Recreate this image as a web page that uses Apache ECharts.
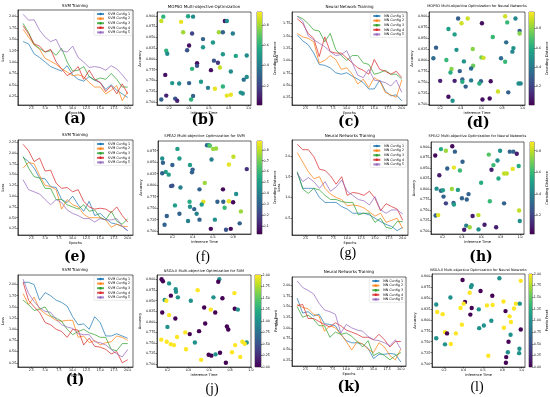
<!DOCTYPE html>
<html><head><meta charset="utf-8">
<script src="https://cdn.jsdelivr.net/npm/echarts@6/dist/echarts.min.js"></script>
<style>html,body{margin:0;padding:0;background:#fff}#c{width:550px;height:397px}</style>
</head><body><div id="c"></div>
<script>
// ---------- DATA ----------
const epochs=[1,2,3,4,5,6,7,8,9,10,11,12,13,14,15,16,17,18,19,20];
const epochTicks=[2.5,5,7.5,10,12.5,15,17.5,20];
const svmNames=['SVM Config 1','SVM Config 2','SVM Config 3','SVM Config 4','SVM Config 5'];
const nnNames=['NN Config 1','NN Config 2','NN Config 3','NN Config 4','NN Config 5'];
const lossTicks200=[0.25,0.5,0.75,1.0,1.25,1.5,1.75,2.0];
const lossTicks175=[0.25,0.5,0.75,1.0,1.25,1.5,1.75];
const lossTicks225=[0.25,0.5,0.75,1.0,1.25,1.5,1.75,2.0,2.25];
const lossTicksHalf=[0.5,1.0,1.5,2.0];

// (a) SVM Training
const aSvm1=[1.45,1.40,1.18,1.10,1.00,0.90,0.85,0.80,0.92,0.72,0.62,0.58,0.68,0.60,0.55,0.40,0.50,0.38,0.30,0.22];
const aSvm2=[1.72,1.55,1.38,1.28,1.08,1.02,0.95,0.85,0.78,0.70,0.72,0.68,0.55,0.45,0.45,0.30,0.38,0.48,0.15,0.35];
const aSvm3=[1.85,1.65,1.38,1.30,1.22,1.25,1.15,1.30,1.00,0.80,0.82,0.90,0.68,0.60,0.65,0.62,0.75,0.62,0.45,0.45];
const aSvm4=[1.80,1.62,1.40,1.35,1.22,1.28,1.00,0.85,0.70,0.78,0.90,0.62,0.82,0.62,0.55,0.35,0.48,0.30,0.52,0.30];
const aSvm5=[2.05,1.92,1.93,1.70,1.55,1.45,1.50,1.25,1.22,1.35,1.10,1.00,0.88,0.90,0.88,0.82,0.92,0.85,0.72,0.57];
// (c) Neural Network Training
const cNn1=[1.52,1.40,1.32,1.15,0.92,0.90,0.85,0.75,0.72,0.75,0.68,0.62,0.55,0.42,0.42,0.60,0.38,0.28,0.30,0.18];
const cNn2=[1.55,1.48,1.45,1.38,0.95,1.00,1.10,1.02,0.82,0.85,0.72,0.52,0.62,0.45,0.65,0.58,0.35,0.30,0.25,0.60];
const cNn3=[1.90,1.85,1.75,1.62,1.60,1.38,1.55,1.22,1.10,1.00,1.10,1.10,0.95,0.92,0.72,0.75,0.80,0.72,0.72,0.62];
const cNn4=[1.85,1.75,1.55,1.45,1.08,1.48,1.18,1.15,1.15,1.05,0.95,0.85,0.80,0.72,1.02,0.82,0.78,0.72,0.78,0.65];
const cNn5=[1.90,1.80,1.50,1.42,1.35,1.28,1.18,1.10,1.12,1.20,0.95,0.70,0.65,0.82,0.60,0.58,0.55,0.48,0.60,0.35];
// (e) SVM Training
const eSvm1=[1.90,1.80,1.65,1.42,1.40,1.22,1.20,0.92,0.85,1.00,0.80,0.65,0.88,0.55,0.60,0.48,0.38,0.35,0.30,0.20];
const eSvm2=[1.65,1.78,1.75,1.48,1.25,1.22,1.15,0.70,0.92,0.80,0.75,0.58,0.50,0.50,0.50,0.45,0.28,0.35,0.30,0.30];
const eSvm3=[1.92,1.65,1.45,1.42,1.18,1.18,0.92,0.92,0.80,0.75,0.70,0.80,0.65,0.68,0.50,0.45,0.65,0.42,0.35,0.48];
const eSvm4=[2.20,2.05,1.80,1.88,1.58,1.60,1.30,1.18,1.20,1.10,1.15,0.88,0.75,0.70,0.72,0.70,0.62,0.75,0.55,0.40];
const eSvm5=[1.38,1.15,1.10,1.05,0.92,0.80,0.92,0.85,0.68,0.60,0.55,0.48,0.48,0.40,0.48,0.45,0.45,0.48,0.30,0.20];
// (g) Neural Networks Training
const gNn1=[1.60,1.22,1.22,1.22,1.00,0.88,0.88,0.88,0.78,0.72,0.62,0.62,0.62,0.58,0.50,0.42,0.35,0.30,0.20,0.28];
const gNn2=[2.08,1.85,1.62,1.45,1.50,1.22,1.08,1.00,0.95,0.80,0.82,0.80,0.75,0.65,0.55,0.62,0.40,0.45,0.50,0.25];
const gNn3=[1.62,1.20,1.10,1.22,1.18,1.05,0.95,0.95,0.90,0.88,0.88,0.58,0.62,0.62,0.40,0.50,0.28,0.25,0.42,0.42];
const gNn4=[2.28,2.15,2.15,1.98,1.68,1.65,1.52,1.32,1.50,1.05,1.12,1.10,1.05,1.15,0.98,0.68,0.85,0.78,0.72,0.45];
const gNn5=[1.58,1.38,1.48,1.38,1.22,1.38,1.15,1.25,1.42,1.15,1.05,0.95,0.92,0.82,1.02,0.70,0.62,0.70,0.70,0.60];
// (i) SVM Training
const iSvm1=[2.05,2.05,2.00,1.65,1.82,1.75,1.65,1.60,1.52,1.28,1.10,1.12,1.00,1.28,1.15,0.85,0.85,0.90,0.85,0.80];
const iSvm2=[1.80,1.55,1.72,1.45,1.35,1.28,1.20,1.18,1.20,1.20,0.82,0.85,0.70,0.75,0.65,0.70,0.72,0.85,0.82,0.75];
const iSvm3=[1.65,1.55,1.42,1.45,1.50,1.30,1.25,1.18,1.00,0.88,0.95,1.00,0.92,0.88,0.82,0.82,0.55,0.52,0.68,0.68];
const iSvm4=[2.05,1.65,1.50,1.38,1.15,1.10,1.00,0.95,0.82,1.00,0.98,0.65,0.80,0.62,0.60,0.55,0.45,0.50,0.25,0.32];
const iSvm5=[2.12,1.80,1.62,1.48,1.40,1.38,1.22,1.10,1.05,1.02,0.90,0.88,0.88,0.72,0.70,0.65,0.55,0.45,0.38,0.55];
// (k) Neural Networks Training
const kNn1=[1.70,1.35,1.38,1.28,1.32,1.10,1.08,1.05,0.85,0.70,0.65,0.65,0.62,0.52,0.28,0.38,0.38,0.40,0.38,0.20];
const kNn2=[1.55,1.48,1.45,1.32,1.28,0.92,1.05,1.00,0.85,0.68,0.48,0.68,0.62,0.50,0.42,0.65,0.55,0.35,0.25,0.50];
const kNn3=[1.50,1.25,1.30,1.20,1.05,1.05,0.78,0.90,0.85,0.88,0.80,0.68,0.55,0.70,0.35,0.42,0.35,0.25,0.35,0.42];
const kNn4=[1.52,1.55,1.22,1.22,1.15,1.08,1.02,1.12,1.05,0.95,0.90,0.85,0.78,0.78,0.72,0.85,0.72,0.55,0.68,0.68];
const kNn5=[2.10,1.95,1.88,1.80,1.58,1.42,1.38,1.32,0.88,1.08,1.00,0.95,0.92,0.80,0.72,0.70,0.65,0.58,0.72,0.50];

// scatter ticks
const timeTicks=[0.2,0.4,0.6,0.8,1.0];
const timeTicks08=[0.2,0.4,0.6,0.8];
const accTicks=[0.700,0.725,0.750,0.775,0.800,0.825,0.850,0.875,0.900];
const accTicks875=[0.700,0.725,0.750,0.775,0.800,0.825,0.850,0.875];
const cdTicks=[0.2,0.4,0.6,0.8];
const cdTicksF=[0.1,0.2,0.3,0.4,0.5,0.6,0.7,0.8];
const pfTicks=[0,0.25,0.5,0.75,1.0,1.25,1.5,1.75,2.0];

// (b) MOPSO
const bTime=[0.14,0.12,0.32,0.39,0.44,0.76,0.78,0.34,0.43,0.70,0.74,0.84,0.54,0.64,0.40,0.38,0.54,0.17,0.18,0.74,0.98,0.87,0.48,0.48,0.65,0.69,0.43,0.62,0.71,0.82,0.16,0.23,0.30,0.40,0.52,0.74,0.95,0.98,0.59,0.66,0.92,0.94,0.82,0.78,0.17,0.44,0.12,0.26,0.28,0.42];
const bAcc=[0.898,0.888,0.886,0.899,0.898,0.888,0.888,0.862,0.859,0.862,0.862,0.859,0.846,0.838,0.831,0.820,0.827,0.819,0.812,0.811,0.808,0.807,0.790,0.784,0.796,0.791,0.777,0.774,0.780,0.771,0.763,0.744,0.743,0.744,0.747,0.736,0.752,0.758,0.733,0.731,0.722,0.720,0.717,0.715,0.715,0.714,0.706,0.708,0.703,0.706];
const bCD=[0.6,0.85,0.9,0.55,0.45,0.05,0.45,0.8,0.2,0.8,0.3,0.4,0.3,0.5,0.05,0.25,0.5,0.6,0.45,0.5,0.45,0.55,0.05,0.25,0.25,0.15,0.6,0.05,0.85,0.45,0.05,0.5,0.45,0.3,0.5,0.6,0.35,0.45,0.4,0.9,0.5,0.45,0.9,0.9,0.1,0.3,0.3,0.25,0.1,0.6];
const bRange=[0.01,0.93];
// (d) MOPSO NN
const dTime=[0.374,0.467,0.407,0.605,0.83,0.93,0.85,0.97,0.97,0.28,0.34,0.71,0.84,0.16,0.358,0.516,0.91,0.90,0.134,0.26,0.43,0.60,0.62,0.79,0.83,0.31,0.30,0.39,0.52,0.50,0.20,0.34,0.415,0.415,0.50,0.595,0.58,0.69,0.447,0.96,0.98,0.76,0.86,0.28,0.32,0.61,0.68];
const dAcc=[0.894,0.894,0.883,0.883,0.899,0.894,0.885,0.866,0.860,0.870,0.858,0.852,0.840,0.828,0.823,0.825,0.827,0.819,0.804,0.800,0.797,0.806,0.805,0.804,0.796,0.780,0.772,0.775,0.787,0.781,0.753,0.753,0.756,0.751,0.754,0.752,0.747,0.752,0.740,0.747,0.747,0.729,0.727,0.717,0.708,0.711,0.713];
const dCD=[0.3,0.9,0.9,0.05,0.9,0.45,0.65,0.3,0.8,0.55,0.55,0.65,0.35,0.3,0.5,0.8,0.5,0.45,0.35,0.65,0.5,0.75,0.9,0.35,0.65,0.8,0.6,0.3,0.75,0.35,0.1,0.1,0.3,0.6,0.4,0.3,0.6,0.05,0.3,0.5,0.45,0.9,0.3,0.05,0.5,0.05,0.05];
const dRange=[0.01,0.97];
// (f) SPEA2 SVM
const fTime=[0.542,0.561,0.571,0.603,0.632,0.25,0.10,0.27,0.107,0.20,0.374,0.587,0.803,0.758,0.135,0.164,0.10,0.40,0.394,0.935,0.52,0.187,0.20,0.28,0.468,0.70,0.83,0.37,0.506,0.645,0.703,0.758,0.80,0.226,0.374,0.416,0.49,0.716,0.877,0.44,0.27,0.145,0.355,0.468,0.62,0.123,0.58,0.73,0.777,0.865];
const fAcc=[0.887,0.887,0.886,0.879,0.880,0.879,0.858,0.858,0.849,0.844,0.844,0.856,0.862,0.845,0.829,0.823,0.826,0.834,0.828,0.835,0.805,0.798,0.799,0.795,0.791,0.791,0.781,0.764,0.764,0.764,0.764,0.765,0.763,0.756,0.753,0.748,0.758,0.751,0.743,0.738,0.738,0.733,0.722,0.725,0.725,0.714,0.705,0.703,0.705,0.717];
const fCD=[0.3,0.5,0.65,0.75,0.75,0.5,0.45,0.5,0.3,0.3,0.5,0.4,0.8,0.85,0.5,0.5,0.3,0.3,0.3,0.15,0.75,0.25,0.25,0.4,0.3,0.05,0.45,0.55,0.85,0.3,0.3,0.85,0.05,0.5,0.45,0.3,0.5,0.6,0.75,0.4,0.3,0.3,0.4,0.3,0.45,0.3,0.05,0.25,0.05,0.3];
const fRange=[0.03,0.88];
// (h) SPEA2 NN
const hTime=[0.30,0.183,0.234,0.327,0.124,0.677,0.794,0.894,0.931,0.966,0.406,0.767,0.725,0.986,0.248,0.317,0.379,0.705,0.924,0.835,0.863,0.166,0.777,0.598,0.138,0.183,0.203,0.296,0.358,0.468,0.21,0.40,0.45,0.234,0.313,0.317,0.688,0.835,0.128,0.155,0.57,0.99,0.51,0.997,0.444,0.48,0.423,0.571,0.633,0.753];
const hAcc=[0.902,0.895,0.891,0.889,0.880,0.882,0.891,0.889,0.889,0.884,0.865,0.868,0.857,0.855,0.849,0.851,0.844,0.846,0.848,0.837,0.837,0.833,0.825,0.815,0.801,0.796,0.797,0.800,0.798,0.788,0.782,0.778,0.775,0.766,0.767,0.763,0.771,0.766,0.737,0.738,0.738,0.749,0.736,0.724,0.713,0.709,0.703,0.704,0.715,0.709];
const hCD=[0.05,0.55,0.75,0.3,0.05,0.65,0.45,0.3,0.3,0.1,0.3,0.45,0.6,0.55,0.3,0.85,0.6,0.1,0.85,0.8,0.8,0.1,0.55,0.55,0.45,0.3,0.5,0.75,0.5,0.3,0.3,0.3,0.3,0.2,0.3,0.5,0.6,0.3,0.3,0.85,0.8,0.8,0.1,0.45,0.4,0.75,0.1,0.45,0.1,0.1];
const hRange=[0.03,0.88];
// (j) NSGA-II SVM
const jTime=[0.144,0.157,0.216,0.697,0.687,0.279,0.282,0.49,0.233,0.30,0.842,0.174,0.19,0.424,0.641,0.727,0.552,0.615,0.658,0.845,0.875,0.15,0.216,0.276,0.562,0.20,0.77,0.783,0.371,0.414,0.503,0.292,0.141,0.193,0.233,0.263,0.463,0.378,0.849,0.918,0.96,0.94,0.595,0.621,0.661,0.704,0.819,0.898,0.523,0.76];
const jAcc=[0.901,0.896,0.891,0.901,0.895,0.877,0.871,0.875,0.862,0.858,0.868,0.852,0.850,0.850,0.858,0.856,0.834,0.829,0.822,0.831,0.829,0.822,0.816,0.808,0.796,0.788,0.789,0.782,0.775,0.771,0.778,0.764,0.758,0.753,0.747,0.745,0.751,0.735,0.745,0.753,0.751,0.748,0.722,0.720,0.723,0.727,0.728,0.717,0.710,0.703];
const jPF=[0,0,1,1,0,1,1,2,0,1,2,1,2,1,1,0,0,2,0,0,1,0,2,0,0,1,0,0,2,0,0,2,2,2,2,2,1,2,2,2,1,2,0,0,1,0,2,2,2,0];
const jRange=[0,2];
// (l) NSGA-II NN
const lTime=[0.391,0.77,0.99,0.485,0.478,0.576,0.464,0.697,0.266,0.416,0.402,0.12,0.812,0.94,0.98,0.485,0.37,0.558,0.642,0.70,0.13,0.186,0.471,0.833,0.92,0.875,0.687,0.889,0.384,0.61,0.562,0.816,0.99,0.21,0.231,0.322,0.12,0.885,0.27,0.21,0.864,0.976,0.973,0.857,0.656,0.84,0.837];
const lAcc=[0.891,0.895,0.889,0.879,0.875,0.866,0.862,0.855,0.851,0.841,0.837,0.835,0.842,0.837,0.837,0.827,0.827,0.824,0.833,0.834,0.818,0.813,0.812,0.820,0.826,0.808,0.798,0.795,0.789,0.787,0.781,0.782,0.778,0.772,0.769,0.769,0.758,0.766,0.745,0.744,0.750,0.734,0.724,0.726,0.718,0.715,0.702];
const lPF=[0,1,2,1,1,0,2,0,1,0,2,1,2,2,1,0,2,1,2,2,2,2,0,0,2,2,1,2,2,1,1,2,0,2,0,2,1,1,2,1,0,1,1,1,2,0,0];
const lRange=[0,2];

// ---------- STYLE / LAYOUT ----------
const FONT='DejaVu Sans';
const TAB=['#1f77b4','#ff7f0e','#2ca02c','#d62728','#9467bd'];
const VIRIDIS=['#440154','#482475','#414487','#355f8d','#2a788e','#21918c','#22a884','#44bf70','#7ad151','#bddf26','#fde725'];
const TICK=3.3, NAMEF=3.6;

const grid=[],xAxis=[],yAxis=[],series=[],legend=[],visualMap=[],texts=[];
function fmt(d){return v=>Number(v).toFixed(d);}
function pad(arrs){let mn=Infinity,mx=-Infinity;arrs.forEach(a=>a.forEach(v=>{if(v<mn)mn=v;if(v>mx)mx=v;}));const m=(mx-mn)*0.05;return [mn-m,mx+m];}
function txt(x,y,s,size,opt){opt=opt||{};texts.push({type:'text',x:x,y:y,silent:true,rotation:opt.rot||0,style:{text:s,fontSize:size,fontFamily:opt.family||FONT,fontWeight:opt.weight||'normal',fill:'#000',align:'center',verticalAlign:'middle'}});}

function addAxes(rect,xr,yr,xTicks,xDec,yTicks,yDec,xName,yName,yGap){
  const gi=grid.length;
  grid.push({left:rect[0],top:rect[1],width:rect[2],height:rect[3],show:true,borderColor:'#000',borderWidth:0.6,backgroundColor:'rgba(0,0,0,0)'});
  xAxis.push({type:'value',gridIndex:gi,min:xr[0],max:xr[1],splitLine:{show:false},
    axisLine:{show:true,onZero:false,lineStyle:{color:'#000',width:0.6}},
    axisTick:{show:true,length:1.5,lineStyle:{color:'#000',width:0.5},customValues:xTicks},
    axisLabel:{customValues:xTicks,formatter:fmt(xDec),fontSize:TICK,color:'#000',margin:1.6,fontFamily:FONT},
    name:xName,nameLocation:'middle',nameGap:6.2,nameTextStyle:{fontSize:NAMEF,fontFamily:FONT,color:'#000'}});
  yAxis.push({type:'value',gridIndex:gi,min:yr[0],max:yr[1],splitLine:{show:false},
    axisLine:{show:true,onZero:false,lineStyle:{color:'#000',width:0.6}},
    axisTick:{show:true,length:1.5,lineStyle:{color:'#000',width:0.5},customValues:yTicks},
    axisLabel:{customValues:yTicks,formatter:fmt(yDec),fontSize:TICK,color:'#000',margin:1.6,fontFamily:FONT},
    name:yName,nameLocation:'middle',nameRotate:90,nameGap:yGap,nameTextStyle:{fontSize:NAMEF,fontFamily:FONT,color:'#000'}});
  return gi;
}

const linePanels=[
 {rect:[17,10,116,95],title:'SVM Training',tY:6,tF:4,names:svmNames,data:[aSvm1,aSvm2,aSvm3,aSvm4,aSvm5],yT:lossTicks200,yD:2,lab:'(a)',lx:75,ly:119,bold:true,legR:418,legT:11},
 {rect:[292,12,115,93],title:'Neural Network Training',tY:7,tF:4,names:nnNames,data:[cNn1,cNn2,cNn3,cNn4,cNn5],yT:lossTicks175,yD:2,lab:'(c)',lx:349,ly:122,bold:true,legR:144,legT:13},
 {rect:[17,140,116,95],title:'SVM Training',tY:135,tF:4,names:svmNames,data:[eSvm1,eSvm2,eSvm3,eSvm4,eSvm5],yT:lossTicks225,yD:2,lab:'(e)',lx:75,ly:257,bold:true,legR:418,legT:141},
 {rect:[292,140,116,95],title:'Neural Networks Training',tY:136,tF:4,names:nnNames,data:[gNn1,gNn2,gNn3,gNn4,gNn5],yT:lossTicksHalf,yD:1,lab:'(g)',lx:348,ly:253,bold:false,legR:144,legT:143},
 {rect:[17,275,116,92],title:'SVM Training',tY:270,tF:4,names:svmNames,data:[iSvm1,iSvm2,iSvm3,iSvm4,iSvm5],yT:lossTicks200,yD:2,lab:'(i)',lx:75,ly:380,bold:true,legR:418,legT:276},
 {rect:[292,277,114,89],title:'Neural Networks Training',tY:272,tF:4,names:nnNames,data:[kNn1,kNn2,kNn3,kNn4,kNn5],yT:lossTicks200,yD:2,lab:'(k)',lx:349,ly:387,bold:true,legR:145,legT:278}
];

linePanels.forEach(p=>{
  const gi=addAxes(p.rect,pad([epochs]),pad(p.data),epochTicks,1,p.yT,p.yD,'Epochs','Loss',8);
  p.data.forEach((arr,k)=>{
    series.push({type:'line',name:p.names[k],xAxisIndex:gi,yAxisIndex:gi,symbol:'none',
      data:epochs.map((e,i)=>[e,arr[i]]),color:TAB[k],
      lineStyle:{width:0.9,color:TAB[k],opacity:0.8},z:3});
  });
  legend.push({orient:'vertical',right:p.legR,top:p.legT,data:p.names,selectedMode:false,
    itemWidth:7,itemHeight:3,itemGap:1.6,padding:[1.5,2,1.5,2],
    textStyle:{fontSize:TICK,fontFamily:FONT,color:'#000',padding:[0,0,0,-1]},
    backgroundColor:'rgba(255,255,255,0.8)',borderColor:'#d0d0d0',borderWidth:0.4,borderRadius:1});
  txt(p.rect[0]+p.rect[2]/2,p.tY,p.title,p.tF);
  txt(p.lx,p.ly,p.lab,14,{family:p.bold?'DejaVu Serif':'Liberation Serif',weight:p.bold?'bold':'normal'});
});

const scatPanels=[
 {rect:[157,12,94,93],cb:[257,12,5,93],title:'MOPSO Multi-objective Optimization',tY:7,tF:4,x:bTime,y:bAcc,c:bCD,cr:bRange,xT:timeTicks,yT:accTicks,cT:cdTicks,cD:1,cName:'Crowding Distance',lab:'(b)',lx:203,ly:120,bold:true},
 {rect:[429,12,96,93],cb:[529,12,6,93],title:'MOPSO Multi-objective Optimization for Neural Networks',tY:6,tF:3.5,x:dTime,y:dAcc,c:dCD,cr:dRange,xT:timeTicks,yT:accTicks,cT:cdTicks,cD:1,cName:'Crowding Distance',lab:'(d)',lx:478,ly:123,bold:true},
 {rect:[158,141,93,93],cb:[257,141,5,93],title:'SPEA2 Multi-objective Optimization for SVM',tY:136,tF:3.7,x:fTime,y:fAcc,c:fCD,cr:fRange,xT:timeTicks08,yT:accTicks875,cT:cdTicksF,cD:1,cName:'Crowding Distance',lab:'(f)',lx:203,ly:257,bold:false},
 {rect:[431,142,93,92],cb:[530,142,6,92],title:'SPEA2 Multi-objective Optimization for Neural Networks',tY:136,tF:3.5,x:hTime,y:hAcc,c:hCD,cr:hRange,xT:timeTicks,yT:accTicks,cT:cdTicks,cD:1,cName:'Crowding Distance',lab:'(h)',lx:481,ly:257,bold:true},
 {rect:[157,275,94,92],cb:[255,275,6,92],title:'NSGA-II Multi-objective Optimization for SVM',tY:271,tF:3.6,x:jTime,y:jAcc,c:jPF,cr:jRange,xT:timeTicks,yT:accTicks,cT:pfTicks,cD:2,cName:'Pareto Front',lab:'(j)',lx:212,ly:389,bold:false},
 {rect:[432,274,93,93],cb:[529,274,6,93],title:'NSGA-II Multi-objective Optimization for Neural Networks',tY:270,tF:3.4,x:lTime,y:lAcc,c:lPF,cr:lRange,xT:timeTicks,yT:accTicks,cT:pfTicks,cD:2,cName:'Pareto Front',lab:'(l)',lx:477,ly:387,bold:false}
];

const stops=VIRIDIS.map((c,i)=>({offset:i/(VIRIDIS.length-1),color:c}));
scatPanels.forEach((p,n)=>{
  const gi=addAxes(p.rect,pad([p.x]),pad([p.y]),p.xT,1,p.yT,3,'Inference Time','Accuracy',14);
  const si=series.length;
  series.push({type:'scatter',xAxisIndex:gi,yAxisIndex:gi,symbolSize:4.4,
    data:p.x.map((v,i)=>[v,p.y[i],p.c[i]]),encode:{x:0,y:1},itemStyle:{opacity:1}});
  visualMap.push({type:'continuous',show:false,min:p.cr[0],max:p.cr[1],dimension:2,seriesIndex:si,inRange:{color:VIRIDIS}});
  // colorbar
  const ci=grid.length;
  grid.push({left:p.cb[0],top:p.cb[1],width:p.cb[2],height:p.cb[3],show:true,borderColor:'#000',borderWidth:0.5,backgroundColor:'rgba(0,0,0,0)'});
  xAxis.push({type:'category',gridIndex:ci,data:['cb'],show:false});
  yAxis.push({type:'value',gridIndex:ci,position:'right',min:p.cr[0],max:p.cr[1],splitLine:{show:false},
    axisLine:{show:false},
    axisTick:{show:true,length:1.5,lineStyle:{color:'#000',width:0.5},customValues:p.cT},
    axisLabel:{customValues:p.cT,formatter:fmt(p.cD),fontSize:TICK,color:'#000',margin:1.6,fontFamily:FONT},
    name:p.cName,nameLocation:'middle',nameRotate:90,nameGap:p.cD===2?11:9,nameTextStyle:{fontSize:NAMEF,fontFamily:FONT,color:'#000'}});
  series.push({type:'bar',xAxisIndex:ci,yAxisIndex:ci,stack:'cb'+n,data:[p.cr[0]],barWidth:'100%',itemStyle:{color:'rgba(0,0,0,0)'},silent:true});
  series.push({type:'bar',xAxisIndex:ci,yAxisIndex:ci,stack:'cb'+n,data:[p.cr[1]-p.cr[0]],barWidth:'100%',silent:true,
    itemStyle:{color:{type:'linear',x:0,y:1,x2:0,y2:0,colorStops:stops}}});
  txt(p.rect[0]+p.rect[2]/2,p.tY,p.title,p.tF);
  txt(p.lx,p.ly,p.lab,14,{family:p.bold?'DejaVu Serif':'Liberation Serif',weight:p.bold?'bold':'normal'});
});

const chart=echarts.init(document.getElementById('c'),null,{renderer:'canvas'});
chart.setOption({animation:false,backgroundColor:'#fff',grid:grid,xAxis:xAxis,yAxis:yAxis,series:series,legend:legend,visualMap:visualMap,graphic:texts});
</script></body></html>
